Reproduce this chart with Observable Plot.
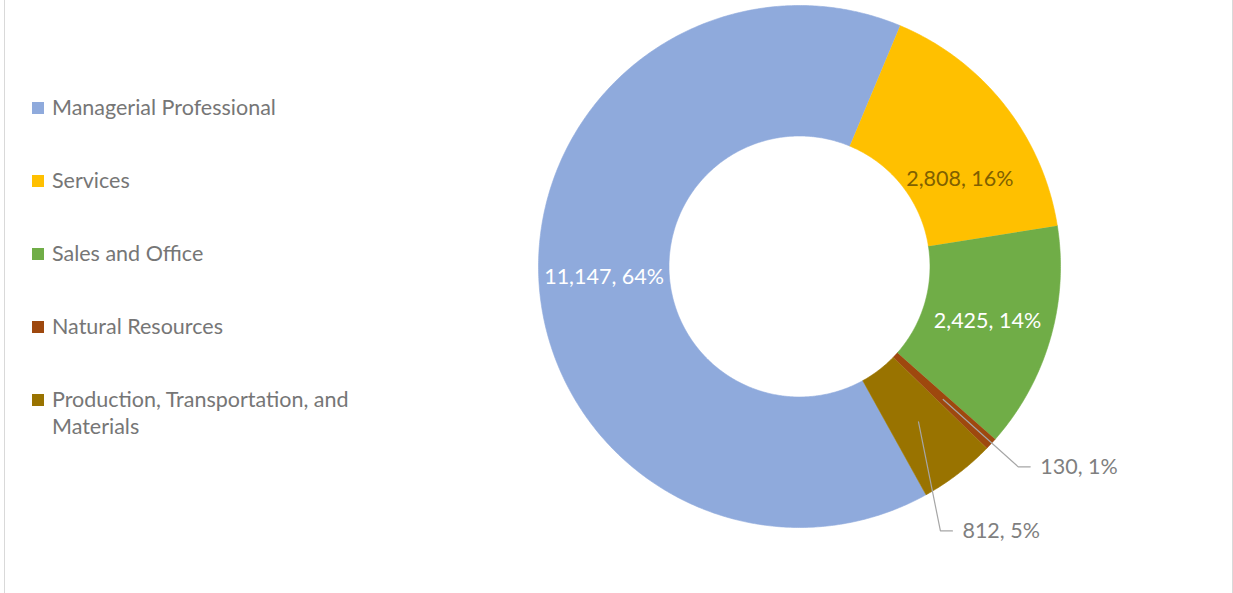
<!DOCTYPE html>
<html><head><meta charset="utf-8">
<script src="https://cdn.jsdelivr.net/npm/d3@7"></script>
<script src="https://cdn.jsdelivr.net/npm/@observablehq/plot@0.6"></script>
<style>
html,body{margin:0;padding:0;background:#fff;}
#frame{position:relative;width:1233px;height:593px;overflow:hidden;font-family:Lato, "Open Sans", sans-serif;}
#border{position:absolute;left:4px;top:-2px;width:1229px;height:600px;border-left:1.5px solid #d9d9d9;border-right:1.5px solid #d9d9d9;box-sizing:border-box;}
#chart{position:absolute;left:0;top:0;}
#legend{position:absolute;left:32px;top:94px;}
.item{display:flex;align-items:flex-start;height:73px;}
.sw{width:12px;height:12px;margin-top:8px;margin-right:8px;flex:none;}
.lab{font-size:21.5px;line-height:27px;color:#767676;width:320px;}
</style></head>
<body>
<div id="frame">
  <div id="border"></div>
  <div id="chart"></div>
  <div id="legend"></div>
</div>
<script>
// ---- data ----
const categories = ["Managerial Professional", "Services", "Sales and Office", "Natural Resources", "Production, Transportation, and Materials"];
const values = [11147, 2808, 2425, 130, 812];
const percentLabels = ["64%", "16%", "14%", "1%", "5%"];
const colors = ["#8faadc", "#ffc000", "#70ad47", "#9e480e", "#997300"];

// ---- layout / style ----
const firstSliceAngle = 151;   // degrees, clockwise from 12 o'clock
const holeRatio = 0.5;
const labelStyle = {
  "Managerial Professional": {color: "#ffffff", shift: 0, r: 0.75, outside: false},
  "Services": {color: "#7f6000", shift: 9.5, r: 0.70, outside: false},
  "Sales and Office": {color: "#ffffff", shift: 0, r: 0.75, outside: false},
  "Natural Resources": {color: "#7f7f7f", shift: -3.0, r: 1.20, outside: true},
  "Production, Transportation, and Materials": {color: "#7f7f7f", shift: 5.8, r: 1.19, outside: true}
};
const R = 261; // pixel radius used for leader spacing
const labelFontSize = 21.5;

const rad = a => a * Math.PI / 180;
const rows = categories.map((c, i) => ({category: c, value: values[i], pct: percentLabels[i]}));
const arcs = d3.pie().sort(null).value(d => d.value)
  .startAngle(rad(firstSliceAngle)).endAngle(rad(firstSliceAngle + 360))(rows);

// wedge outlines (annular sectors) as closed polygons in unit coordinates
const wedgePts = [];
for (const a of arcs) {
  const n = Math.max(2, Math.ceil((a.endAngle - a.startAngle) / rad(0.5)));
  for (let k = 0; k <= n; k++) {
    const t = a.startAngle + (a.endAngle - a.startAngle) * k / n;
    wedgePts.push({category: a.data.category, x: Math.sin(t), y: Math.cos(t)});
  }
  for (let k = n; k >= 0; k--) {
    const t = a.startAngle + (a.endAngle - a.startAngle) * k / n;
    wedgePts.push({category: a.data.category, x: holeRatio * Math.sin(t), y: holeRatio * Math.cos(t)});
  }
}

const fmt = d3.format(",");
const labels = arcs.map(a => {
  const s = labelStyle[a.data.category];
  const mid = (a.startAngle + a.endAngle) / 2;
  const t = mid + rad(s.shift);
  return {category: a.data.category, text: `${fmt(a.data.value)}, ${a.data.pct}`,
    x: s.r * Math.sin(t), y: s.r * Math.cos(t), color: s.color, outside: s.outside,
    sx: 0.75 * Math.sin(mid), sy: 0.75 * Math.cos(mid)};
});
const leaderPts = [];
for (const l of labels.filter(d => d.outside)) {
  const gap = 10 / R, seg = 12 / R;
  leaderPts.push({category: l.category, x: l.sx, y: l.sy});
  leaderPts.push({category: l.category, x: l.x - gap - seg, y: l.y});
  leaderPts.push({category: l.category, x: l.x - gap, y: l.y});
}

const textColors = Array.from(new Set(labels.map(d => d.color)));
const textMarks = [];
for (const c of textColors) {
  for (const out of [false, true]) {
    const sub = labels.filter(d => d.color === c && d.outside === out);
    if (!sub.length) continue;
    textMarks.push(Plot.text(sub, {x: "x", y: "y", text: "text", fill: c,
      textAnchor: out ? "start" : "middle", fontSize: labelFontSize, fontFamily: "Lato, sans-serif"}));
  }
}

const chart = Plot.plot({
  width: 1233, height: 593,
  marginLeft: 538, marginRight: 173, marginTop: 5, marginBottom: 66,
  x: {domain: [-1, 1], axis: null},
  y: {domain: [-1, 1], axis: null},
  color: {domain: categories, range: colors},
  style: {background: "transparent", overflow: "visible"},
  marks: [
    Plot.line(wedgePts, {x: "x", y: "y", z: "category", fill: "category", stroke: "category", strokeWidth: 0.6, curve: "linear"}),
    Plot.line(leaderPts, {x: "x", y: "y", z: "category", stroke: "#a6a6a6", strokeWidth: 1.2, curve: "linear"}),
    ...textMarks
  ]
});
document.getElementById("chart").appendChild(chart);

// legend
const lg = document.getElementById("legend");
categories.forEach((c, i) => {
  const item = document.createElement("div");
  item.className = "item";
  const sw = document.createElement("div");
  sw.className = "sw";
  sw.style.background = colors[i];
  const t = document.createElement("div");
  t.className = "lab";
  t.textContent = c;
  item.appendChild(sw); item.appendChild(t);
  lg.appendChild(item);
});
</script>
</body></html>
